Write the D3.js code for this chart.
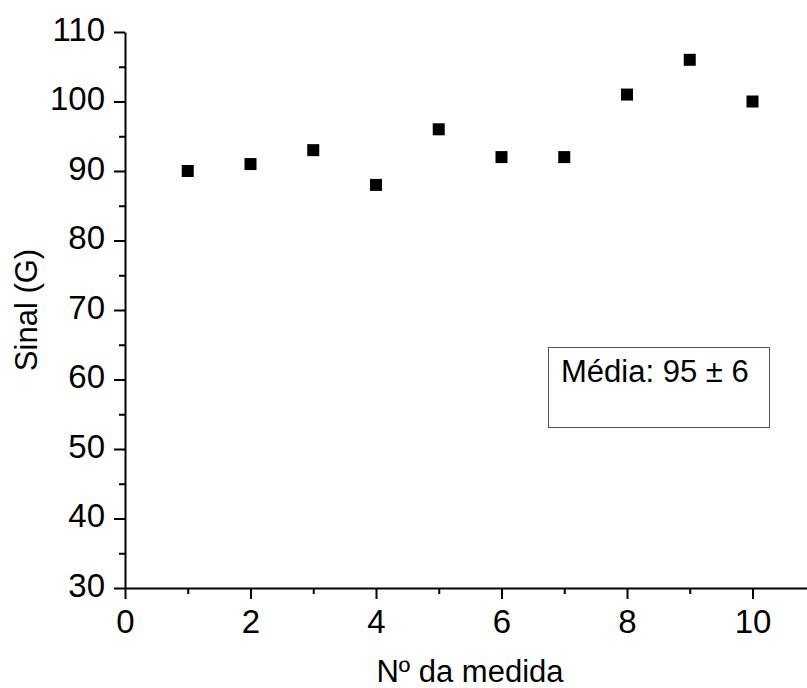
<!DOCTYPE html>
<html>
<head>
<meta charset="utf-8">
<script src="https://cdn.jsdelivr.net/npm/d3@7"></script>
<style>
  body { margin: 0; background: #fff; }
  text { font-family: "Liberation Sans", Arial, sans-serif; }
</style>
</head>
<body>
<script>
// Data
let medidas = [1, 2, 3, 4, 5, 6, 7, 8, 9, 10];
let sinal = [90, 91, 93, 88, 96, 92, 92, 101, 106, 100];
let xMajorTicks = [0, 2, 4, 6, 8, 10];
let xMinorTicks = [1, 3, 5, 7, 9, 11];
let yMajorTicks = [30, 40, 50, 60, 70, 80, 90, 100, 110];
let yMinorTicks = [35, 45, 55, 65, 75, 85, 95, 105];
let legendText = "Média: 95 ± 6";

let w = 807;
let h = 688;

let xScale = d3.scaleLinear().domain([0, 11]).range([125, 815.25]);
let yScale = d3.scaleLinear().domain([30, 110]).range([588, 32]);

let svg = d3.select("body").append("svg").attr("width", w).attr("height", h);

// x axis (major + minor)
let xAxis = d3.axisBottom(xScale)
  .tickValues(xMajorTicks)
  .tickSize(11)
  .tickSizeOuter(0)
  .tickPadding(11)
  .tickFormat(d3.format("d"));
let xg = svg.append("g")
  .attr("transform", "translate(0," + yScale(30) + ")")
  .call(xAxis);

let xMinor = d3.axisBottom(xScale)
  .tickValues(xMinorTicks)
  .tickSize(6)
  .tickSizeOuter(0)
  .tickFormat("");
let xmg = svg.append("g")
  .attr("transform", "translate(0," + yScale(30) + ")")
  .call(xMinor);
xmg.select(".domain").remove();

// y axis (major + minor)
let yAxis = d3.axisLeft(yScale)
  .tickValues(yMajorTicks)
  .tickSize(11)
  .tickSizeOuter(0)
  .tickPadding(9)
  .tickFormat(d3.format("d"));
let yg = svg.append("g")
  .attr("transform", "translate(" + xScale(0) + ",0)")
  .call(yAxis);
yg.selectAll(".tick text").attr("dy", "0.25em");

let yMinor = d3.axisLeft(yScale)
  .tickValues(yMinorTicks)
  .tickSize(6)
  .tickSizeOuter(0)
  .tickFormat("");
let ymg = svg.append("g")
  .attr("transform", "translate(" + xScale(0) + ",0)")
  .call(yMinor);
ymg.select(".domain").remove();

// axis styling
svg.selectAll(".domain, .tick line")
  .attr("stroke", "#000")
  .attr("stroke-width", 2);
svg.selectAll(".tick text")
  .attr("font-size", "33px")
  .attr("font-family", "Liberation Sans, Arial, sans-serif")
  .attr("fill", "#000");

// axis titles
svg.append("text")
  .attr("x", 470)
  .attr("y", 682)
  .attr("text-anchor", "middle")
  .attr("font-size", "31px")
  .attr("fill", "#000")
  .text("Nº da medida");

svg.append("text")
  .attr("transform", "translate(37," + (yScale(70)) + ") rotate(-90)")
  .attr("text-anchor", "middle")
  .attr("font-size", "31px")
  .attr("fill", "#000")
  .text("Sinal (G)");

// square markers
let size = 12;
svg.selectAll("rect.point")
  .data(medidas)
  .enter()
  .append("rect")
  .attr("class", "point")
  .attr("x", (d) => xScale(d) - size / 2)
  .attr("y", (d, i) => yScale(sinal[i]) - size / 2)
  .attr("width", size)
  .attr("height", size)
  .attr("fill", "#000");

// annotation box
svg.append("rect")
  .attr("x", 548.5)
  .attr("y", 347.5)
  .attr("width", 221)
  .attr("height", 80)
  .attr("fill", "none")
  .attr("stroke", "#555")
  .attr("stroke-width", 1);

svg.append("text")
  .attr("x", 561)
  .attr("y", 382)
  .attr("font-size", "31px")
  .attr("fill", "#000")
  .text(legendText);
</script>
</body>
</html>
